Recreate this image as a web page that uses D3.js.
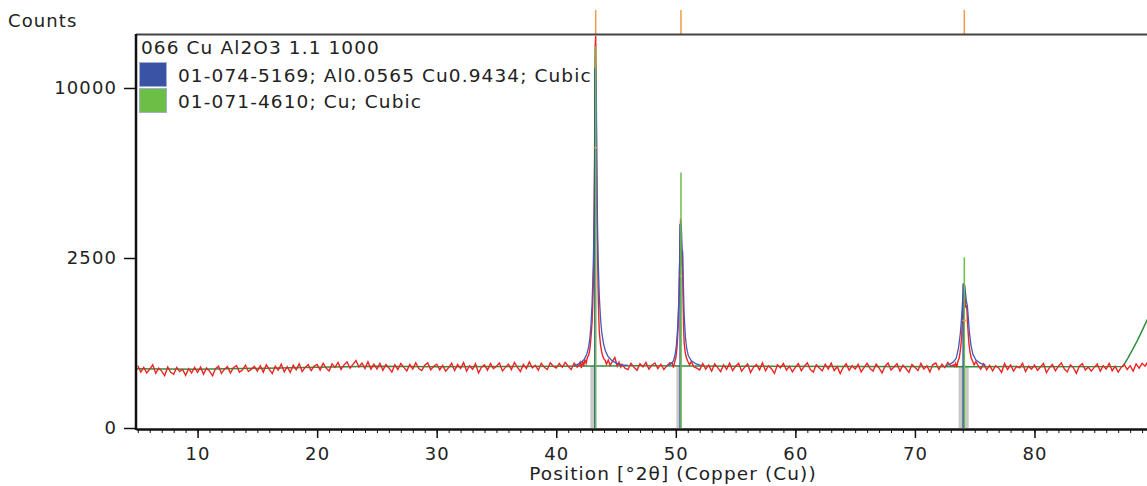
<!DOCTYPE html>
<html>
<head>
<meta charset="utf-8">
<script src="https://cdn.jsdelivr.net/npm/d3@7"></script>
<style>
  body { margin: 0; background: #fff; }
  text { font-family: "DejaVu Sans", Verdana, sans-serif; fill: #222; letter-spacing: 1.1px; }
  .axis text { font-size: 18px; }
  .axis path, .axis line { stroke: #111; }
</style>
</head>
<body>
<div id="xrd"></div>
<script>
// scan, 5.00 .. 89.50 deg, step 0.25
var scanStart = 5.0, scanStep = 0.25;
var scanCounts = [
  335,270,318,262,300,345,258,310,280,236,322,268,250,318,275,296,240,305,262,318,
  268,320,250,312,280,236,305,330,258,300,326,262,315,338,270,290,342,276,300,328,
  280,336,270,345,298,256,330,290,352,272,325,268,340,292,358,276,318,348,285,332,
  350,290,362,310,280,356,318,372,296,345,378,310,350,392,322,365,305,380,300,352,
  300,362,288,350,312,270,345,296,360,318,282,350,300,368,305,286,340,366,292,330,
  352,292,338,278,315,362,285,348,306,370,280,335,298,356,262,320,345,290,360,305,
  330,365,282,318,352,295,372,320,276,350,305,378,312,340,288,362,318,296,368,330,
  310,360,318,372,330,296,365,320,360,385,430,560,1150,13000,1800,620,470,410,380,355,
  345,372,350,310,295,362,318,288,356,322,372,300,340,365,305,352,296,334,368,360,
  420,1200,2400,650,420,375,350,310,292,360,300,342,280,355,316,275,345,298,362,286,
  330,362,280,318,355,266,320,348,292,366,284,335,305,258,345,312,360,290,330,272,
  318,358,284,330,368,296,270,345,312,282,352,300,364,286,325,256,318,356,288,335,
  300,350,272,318,362,305,280,352,312,262,330,366,290,322,356,280,342,306,268,350,
  318,285,360,300,335,272,348,365,296,352,316,372,330,345,380,450,1000,1350,700,420,
  370,345,300,358,292,340,282,335,312,268,360,296,345,280,328,312,362,276,330,300,
  342,288,322,360,266,315,350,282,330,365,300,272,345,316,258,330,358,290,322,280,
  318,355,280,336,300,362,284,328,270,318,350,296,336,280,355,310,362,330,385
];

// finer readings around the three reflections (replace the coarse scan there)
var obsPeak1 = [[41.9,340],[42.0,375],[42.1,310],[42.2,388],[42.3,335],[42.4,405],[42.5,362],[42.6,430],[42.7,455],[42.8,520],[42.85,600],[42.9,700],[42.95,820],[43.0,980],[43.05,1300],[43.1,1800],[43.15,2900],[43.2,5800],[43.25,12500],[43.3,13300],[43.35,8200],[43.4,4200],[43.45,2800],[43.5,1700],[43.55,1100],[43.6,800],[43.7,600],[43.8,500],[43.9,440],[44.0,410],[44.1,395],[44.2,352],[44.35,400],[44.5,340],[44.7,385],[44.9,430],[45.0,380],[45.1,330],[45.25,375],[45.4,320]];
var obsPeak2 = [[49.7,365],[49.8,315],[49.9,375],[50.0,420],[50.1,560],[50.2,900],[50.28,1700],[50.35,2900],[50.4,3800],[50.45,3300],[50.5,2300],[50.55,2750],[50.6,1500],[50.65,900],[50.7,620],[50.8,480],[50.9,420],[51.0,385],[51.15,345],[51.3,385],[51.5,325]];
var obsPeak3 = [[73.3,330],[73.4,362],[73.5,320],[73.6,385],[73.7,420],[73.8,520],[73.9,700],[73.95,900],[74.0,1150],[74.05,1500],[74.1,1820],[74.15,1750],[74.2,1450],[74.25,1250],[74.3,1300],[74.35,1200],[74.4,950],[74.5,650],[74.6,500],[74.7,430],[74.8,395],[74.95,345],[75.1,380]];

// calculated profile (blue)
var calcPeak1 = [[41.5,335],[41.8,350],[42.1,375],[42.35,410],[42.55,470],[42.7,560],[42.8,680],[42.9,900],[43.0,1350],[43.1,2300],[43.18,4300],[43.25,9500],[43.3,11300],[43.35,9800],[43.4,5600],[43.45,3600],[43.5,2500],[43.6,1500],[43.7,1050],[43.8,800],[43.95,620],[44.1,520],[44.3,450],[44.6,400],[45.0,365],[45.5,345],[46.0,338]];
var calcPeak2 = [[49.3,338],[49.6,355],[49.8,390],[49.95,470],[50.05,600],[50.15,850],[50.25,1400],[50.32,2400],[50.4,3700],[50.46,3600],[50.52,2800],[50.57,2650],[50.63,1800],[50.7,1100],[50.8,720],[50.9,560],[51.05,450],[51.3,390],[51.7,355],[52.1,340]];
var calcPeak3 = [[72.6,335],[72.9,350],[73.2,375],[73.45,420],[73.65,560],[73.8,780],[73.9,1050],[74.0,1450],[74.08,1780],[74.13,1800],[74.2,1650],[74.3,1400],[74.38,1300],[74.45,1100],[74.55,800],[74.7,580],[74.85,470],[75.1,400],[75.5,360],[75.9,342]];

// background (dark green)
var background = [[4.85,305],[10,298],[20,318],[25,330],[30,325],[40,330],[47,335],[55,330],[65,328],[75,325],[87.4,328],[87.8,420],[88.2,530],[88.6,660],[89.0,820],[89.5,1047]];

// reference patterns
var alcuPos = [43.25, 50.38, 74.05], alcuInt = [11200, 3600, 1800];
var cuPos = [43.30, 50.43, 74.13], cuInt = [12600, 5650, 2520];

// peak list
var peakPos = [43.30, 50.43, 74.13];
var peakBandLo = [42.85, 50.05, 73.65], peakBandHi = [43.30, 50.40, 74.50];
var peakHalf = [6800, 2000, 1000], peakFwhm = [0.25, 0.2, 0.35];

var legendTitle = "066 Cu Al2O3 1.1 1000";
var legendNames = ["01-074-5169; Al0.0565 Cu0.9434; Cubic", "01-071-4610; Cu; Cubic"];
var legendColors = ["#3a53a5", "#6cbf46"];

var yTicks = [0, 2500, 10000];
var xMajor = [10, 20, 30, 40, 50, 60, 70, 80];
var xMinor = d3.range(5, 90, 1);

var W = 1147, H = 486;
var plotLeft = 136, plotTop = 35, plotBottom = 428;

var x = d3.scaleLinear().domain([4.85, 90]).range([plotLeft, plotLeft + 85.15 * 11.956]);
var y = d3.scaleSqrt().domain([0, 13360]).range([plotBottom, plotTop]);

// build observed series
var obs = [];
scanCounts.forEach(function(c, i) {
    var t = scanStart + i * scanStep;
    if ((t >= 41.9 && t <= 45.4) || (t >= 49.7 && t <= 51.5) || (t >= 73.3 && t <= 75.1)) return;
    obs.push([t, c]);
});
obs = obs.concat(obsPeak1, obsPeak2, obsPeak3).sort(function(a, b) { return a[0] - b[0]; });

var svg = d3.select("#xrd").append("svg")
    .attr("width", W)
    .attr("height", H);

svg.append("clipPath").attr("id", "plotclip")
    .append("rect")
    .attr("x", plotLeft + 1).attr("y", plotTop)
    .attr("width", W - plotLeft).attr("height", plotBottom - plotTop);

var plot = svg.append("g").attr("clip-path", "url(#plotclip)");

var line = d3.line()
    .x(function(d) { return x(d[0]); })
    .y(function(d) { return y(d[1]); });

// grey peak bands
plot.selectAll(".band")
    .data(peakPos)
    .enter().append("rect")
    .attr("x", function(d, i) { return x(peakBandLo[i]); })
    .attr("width", function(d, i) { return x(peakBandHi[i]) - x(peakBandLo[i]); })
    .attr("y", y(335))
    .attr("height", plotBottom - y(335))
    .attr("fill", "#c9c9c9");

// background
plot.append("path")
    .datum(background)
    .attr("d", line)
    .attr("fill", "none")
    .attr("stroke", "#2f8f3f")
    .attr("stroke-width", 1.5);

// observed
plot.append("path")
    .datum(obs)
    .attr("d", line)
    .attr("fill", "none")
    .attr("stroke", "#ec2424")
    .attr("stroke-width", 1.4);

// calculated
[calcPeak1, calcPeak2, calcPeak3].forEach(function(seg) {
    plot.append("path")
        .datum(seg)
        .attr("d", line)
        .attr("fill", "none")
        .attr("stroke", "#4758b8")
        .attr("stroke-width", 1.3);
});

// reference sticks
plot.selectAll(".alcu")
    .data(alcuPos)
    .enter().append("line")
    .attr("x1", function(d) { return x(d); })
    .attr("x2", function(d) { return x(d); })
    .attr("y1", plotBottom)
    .attr("y2", function(d, i) { return y(alcuInt[i]); })
    .attr("stroke", "#3a53a5")
    .attr("stroke-width", 2);

plot.selectAll(".cu")
    .data(cuPos)
    .enter().append("line")
    .attr("x1", function(d) { return x(d); })
    .attr("x2", function(d) { return x(d); })
    .attr("y1", plotBottom)
    .attr("y2", function(d, i) { return y(cuInt[i]); })
    .attr("stroke", "#6cbf46")
    .attr("stroke-width", 1.5);

// peak list marks (orange)
plot.selectAll(".half")
    .data(peakPos)
    .enter().append("line")
    .attr("x1", function(d, i) { return x(d - peakFwhm[i] / 2); })
    .attr("x2", function(d, i) { return x(d + peakFwhm[i] / 2); })
    .attr("y1", function(d, i) { return y(peakHalf[i]); })
    .attr("y2", function(d, i) { return y(peakHalf[i]); })
    .attr("stroke", "#f39a45")
    .attr("stroke-width", 1.5);

svg.selectAll(".ptick")
    .data(peakPos)
    .enter().append("line")
    .attr("x1", function(d) { return x(d); })
    .attr("x2", function(d) { return x(d); })
    .attr("y1", 10)
    .attr("y2", 34)
    .attr("stroke", "#f39a45")
    .attr("stroke-width", 1.5);

// top frame
svg.append("line")
    .attr("x1", plotLeft).attr("x2", W)
    .attr("y1", 34.5).attr("y2", 34.5)
    .attr("stroke", "#444")
    .attr("stroke-width", 2);

// Add the X Axis (minor then major)
svg.append("g")
    .attr("class", "axis")
    .attr("transform", "translate(0," + (plotBottom + 1) + ")")
    .call(d3.axisBottom(x).tickValues(xMinor).tickSize(4).tickSizeOuter(0).tickFormat(""))
    .select(".domain").remove();

svg.append("g")
    .attr("class", "axis")
    .attr("transform", "translate(0," + (plotBottom + 1) + ")")
    .call(d3.axisBottom(x).tickValues(xMajor).tickSize(9).tickSizeOuter(0).tickPadding(9).tickFormat(d3.format("d")))
    .call(function(g) { g.select(".domain").attr("stroke-width", 2.5); })
    .call(function(g) { g.selectAll(".tick line").attr("stroke-width", 1.5); });

// Add the Y Axis
svg.append("g")
    .attr("class", "axis")
    .attr("transform", "translate(" + plotLeft + ",0)")
    .call(d3.axisLeft(y).tickValues(yTicks).tickSize(12).tickSizeOuter(0).tickPadding(7).tickFormat(d3.format("d")))
    .call(function(g) { g.select(".domain").attr("d", "M0," + (plotTop - 1) + "V" + (plotBottom + 2)).attr("stroke-width", 2.5); })
    .call(function(g) { g.selectAll(".tick line").attr("stroke-width", 1.5); });

svg.append("text")
    .attr("x", 8)
    .attr("y", 27)
    .style("font-size", "18px")
    .text("Counts");

svg.append("text")
    .attr("x", 673)
    .attr("y", 480)
    .attr("text-anchor", "middle")
    .style("font-size", "18.5px")
    .text("Position [°2θ] (Copper (Cu))");

// legend
svg.append("text")
    .attr("x", 141)
    .attr("y", 54)
    .style("font-size", "18.5px")
    .text(legendTitle);

var leg = svg.selectAll(".leg")
    .data(legendNames)
    .enter().append("g")
    .attr("transform", function(d, i) { return "translate(139," + (62 + i * 26) + ")"; });

leg.append("rect")
    .attr("x", 0.5).attr("y", 0.5)
    .attr("width", 27).attr("height", 24)
    .attr("fill", function(d, i) { return legendColors[i]; })
    .attr("stroke", "#9fb0d0")
    .attr("stroke-width", 1);

leg.append("text")
    .attr("x", 39)
    .attr("y", 20)
    .style("font-size", "18.5px")
    .text(function(d) { return d; });
</script>
</body>
</html>
